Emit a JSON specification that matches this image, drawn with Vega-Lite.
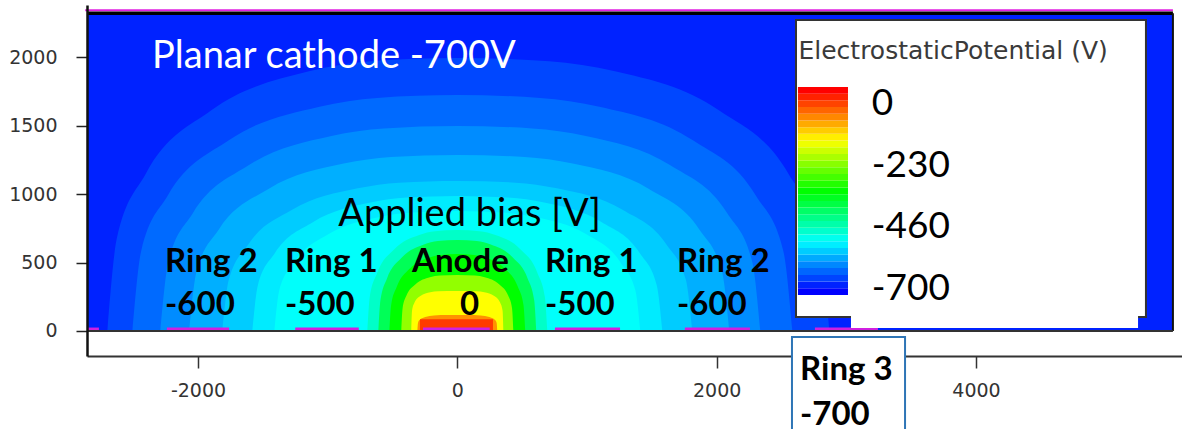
{
"$schema": "https://vega.github.io/schema/vega-lite/v6.json",
"width": 1095, "height": 351,
"autosize": "none",
"padding": {"left": 87, "top": 5, "right": 0, "bottom": 73},
"background": "white",
"config": {"view": {"stroke": null}},
"data": {"values": [{}]},
"datasets": {
"bg": [{"x": -2856, "x2": 5519, "y": 0, "y2": 2310, "v": -677}],
"anode": [{"x": -288, "x2": 275, "y": 0, "y2": 85, "v": -40}],
"contours": [
{"l":"c01","v":-651,"x":-2699,"y":0},{"l":"c01","v":-651,"x":-2626,"y":677},{"l":"c01","v":-651,"x":-2405,"y":1146},{"l":"c01","v":-651,"x":-1897,"y":1613},{"l":"c01","v":-651,"x":-1144,"y":1898},{"l":"c01","v":-651,"x":-667,"y":1972},{"l":"c01","v":-651,"x":0,"y":1996},{"l":"c01","v":-651,"x":709,"y":1972},{"l":"c01","v":-651,"x":1216,"y":1898},{"l":"c01","v":-651,"x":2017,"y":1613},{"l":"c01","v":-651,"x":2556,"y":1146},{"l":"c01","v":-651,"x":2792,"y":677},{"l":"c01","v":-651,"x":2869,"y":0},
{"l":"c02","v":-627,"x":-2506,"y":0},{"l":"c02","v":-627,"x":-2438,"y":585},{"l":"c02","v":-627,"x":-2233,"y":990},{"l":"c02","v":-627,"x":-1762,"y":1394},{"l":"c02","v":-627,"x":-1063,"y":1640},{"l":"c02","v":-627,"x":-619,"y":1704},{"l":"c02","v":-627,"x":0,"y":1725},{"l":"c02","v":-627,"x":638,"y":1704},{"l":"c02","v":-627,"x":1096,"y":1640},{"l":"c02","v":-627,"x":1817,"y":1394},{"l":"c02","v":-627,"x":2302,"y":990},{"l":"c02","v":-627,"x":2514,"y":585},{"l":"c02","v":-627,"x":2584,"y":0},
{"l":"c03","v":-604,"x":-2290,"y":0},{"l":"c03","v":-604,"x":-2228,"y":508},{"l":"c03","v":-604,"x":-2040,"y":860},{"l":"c03","v":-604,"x":-1610,"y":1211},{"l":"c03","v":-604,"x":-971,"y":1426},{"l":"c03","v":-604,"x":-566,"y":1481},{"l":"c03","v":-604,"x":0,"y":1499},{"l":"c03","v":-604,"x":577,"y":1481},{"l":"c03","v":-604,"x":991,"y":1426},{"l":"c03","v":-604,"x":1643,"y":1211},{"l":"c03","v":-604,"x":2082,"y":860},{"l":"c03","v":-604,"x":2274,"y":508},{"l":"c03","v":-604,"x":2337,"y":0},
{"l":"c04","v":-580,"x":-2067,"y":0},{"l":"c04","v":-580,"x":-2011,"y":436},{"l":"c04","v":-580,"x":-1842,"y":739},{"l":"c04","v":-580,"x":-1453,"y":1040},{"l":"c04","v":-580,"x":-876,"y":1224},{"l":"c04","v":-580,"x":-511,"y":1272},{"l":"c04","v":-580,"x":0,"y":1287},{"l":"c04","v":-580,"x":518,"y":1272},{"l":"c04","v":-580,"x":890,"y":1224},{"l":"c04","v":-580,"x":1475,"y":1040},{"l":"c04","v":-580,"x":1869,"y":739},{"l":"c04","v":-580,"x":2041,"y":436},{"l":"c04","v":-580,"x":2098,"y":0},
{"l":"c05","v":-560,"x":-1812,"y":0},{"l":"c05","v":-560,"x":-1763,"y":372},{"l":"c05","v":-560,"x":-1614,"y":630},{"l":"c05","v":-560,"x":-1274,"y":886},{"l":"c05","v":-560,"x":-768,"y":1043},{"l":"c05","v":-560,"x":-448,"y":1084},{"l":"c05","v":-560,"x":0,"y":1097},{"l":"c05","v":-560,"x":448,"y":1084},{"l":"c05","v":-560,"x":768,"y":1043},{"l":"c05","v":-560,"x":1274,"y":886},{"l":"c05","v":-560,"x":1614,"y":630},{"l":"c05","v":-560,"x":1763,"y":372},{"l":"c05","v":-560,"x":1812,"y":0},
{"l":"c06","v":-539,"x":-1581,"y":0},{"l":"c06","v":-539,"x":-1538,"y":335},{"l":"c06","v":-539,"x":-1409,"y":567},{"l":"c06","v":-539,"x":-1111,"y":797},{"l":"c06","v":-539,"x":-670,"y":939},{"l":"c06","v":-539,"x":-391,"y":975},{"l":"c06","v":-539,"x":0,"y":987},{"l":"c06","v":-539,"x":391,"y":975},{"l":"c06","v":-539,"x":670,"y":939},{"l":"c06","v":-539,"x":1111,"y":797},{"l":"c06","v":-539,"x":1409,"y":567},{"l":"c06","v":-539,"x":1538,"y":335},{"l":"c06","v":-539,"x":1581,"y":0},
{"l":"c07","v":-522,"x":-1411,"y":0},{"l":"c07","v":-522,"x":-1373,"y":297},{"l":"c07","v":-522,"x":-1257,"y":503},{"l":"c07","v":-522,"x":-992,"y":709},{"l":"c07","v":-522,"x":-598,"y":834},{"l":"c07","v":-522,"x":-349,"y":866},{"l":"c07","v":-522,"x":0,"y":877},{"l":"c07","v":-522,"x":349,"y":866},{"l":"c07","v":-522,"x":598,"y":834},{"l":"c07","v":-522,"x":992,"y":709},{"l":"c07","v":-522,"x":1257,"y":503},{"l":"c07","v":-522,"x":1373,"y":297},{"l":"c07","v":-522,"x":1411,"y":0},
{"l":"c08","v":-487,"x":-694,"y":0},{"l":"c08","v":-487,"x":-675,"y":250},{"l":"c08","v":-487,"x":-618,"y":424},{"l":"c08","v":-487,"x":-488,"y":596},{"l":"c08","v":-487,"x":-294,"y":702},{"l":"c08","v":-487,"x":-171,"y":729},{"l":"c08","v":-487,"x":0,"y":738},{"l":"c08","v":-487,"x":171,"y":729},{"l":"c08","v":-487,"x":294,"y":702},{"l":"c08","v":-487,"x":488,"y":596},{"l":"c08","v":-487,"x":618,"y":424},{"l":"c08","v":-487,"x":675,"y":250},{"l":"c08","v":-487,"x":694,"y":0},
{"l":"c09","v":-410,"x":-609,"y":0},{"l":"c09","v":-410,"x":-593,"y":225},{"l":"c09","v":-410,"x":-543,"y":382},{"l":"c09","v":-410,"x":-428,"y":537},{"l":"c09","v":-410,"x":-258,"y":632},{"l":"c09","v":-410,"x":-150,"y":657},{"l":"c09","v":-410,"x":0,"y":665},{"l":"c09","v":-410,"x":150,"y":657},{"l":"c09","v":-410,"x":258,"y":632},{"l":"c09","v":-410,"x":428,"y":537},{"l":"c09","v":-410,"x":543,"y":382},{"l":"c09","v":-410,"x":593,"y":225},{"l":"c09","v":-410,"x":609,"y":0},
{"l":"c10","v":-350,"x":-524,"y":0},{"l":"c10","v":-350,"x":-510,"y":191},{"l":"c10","v":-350,"x":-467,"y":323},{"l":"c10","v":-350,"x":-368,"y":455},{"l":"c10","v":-350,"x":-222,"y":535},{"l":"c10","v":-350,"x":-129,"y":556},{"l":"c10","v":-350,"x":0,"y":563},{"l":"c10","v":-350,"x":129,"y":556},{"l":"c10","v":-350,"x":222,"y":535},{"l":"c10","v":-350,"x":368,"y":455},{"l":"c10","v":-350,"x":467,"y":323},{"l":"c10","v":-350,"x":510,"y":191},{"l":"c10","v":-350,"x":524,"y":0},
{"l":"c11","v":-250,"x":-432,"y":0},{"l":"c11","v":-250,"x":-422,"y":166},{"l":"c11","v":-250,"x":-393,"y":258},{"l":"c11","v":-250,"x":-322,"y":342},{"l":"c11","v":-250,"x":-211,"y":393},{"l":"c11","v":-250,"x":-135,"y":405},{"l":"c11","v":-250,"x":0,"y":409},{"l":"c11","v":-250,"x":135,"y":405},{"l":"c11","v":-250,"x":211,"y":393},{"l":"c11","v":-250,"x":322,"y":342},{"l":"c11","v":-250,"x":393,"y":258},{"l":"c11","v":-250,"x":422,"y":166},{"l":"c11","v":-250,"x":432,"y":0},
{"l":"c12","v":-175,"x":-355,"y":0},{"l":"c12","v":-175,"x":-349,"y":149},{"l":"c12","v":-175,"x":-331,"y":206},{"l":"c12","v":-175,"x":-285,"y":256},{"l":"c12","v":-175,"x":-208,"y":283},{"l":"c12","v":-175,"x":-148,"y":290},{"l":"c12","v":-175,"x":0,"y":292},{"l":"c12","v":-175,"x":148,"y":290},{"l":"c12","v":-175,"x":208,"y":283},{"l":"c12","v":-175,"x":285,"y":256},{"l":"c12","v":-175,"x":331,"y":206},{"l":"c12","v":-175,"x":349,"y":149},{"l":"c12","v":-175,"x":355,"y":0},
{"l":"c13","v":-100,"x":-308,"y":0},{"l":"c13","v":-100,"x":-303,"y":60},{"l":"c13","v":-100,"x":-287,"y":83},{"l":"c13","v":-100,"x":-247,"y":102},{"l":"c13","v":-100,"x":-180,"y":113},{"l":"c13","v":-100,"x":-128,"y":116},{"l":"c13","v":-100,"x":0,"y":117},{"l":"c13","v":-100,"x":128,"y":116},{"l":"c13","v":-100,"x":180,"y":113},{"l":"c13","v":-100,"x":247,"y":102},{"l":"c13","v":-100,"x":287,"y":83},{"l":"c13","v":-100,"x":303,"y":60},{"l":"c13","v":-100,"x":308,"y":0}
],
"electrodes": [
{"name":"Ring 3 L","x":-2856,"x2":-2764},{"name":"Ring 2 L","x":-2240,"x2":-1760},{"name":"Ring 1 L","x":-1250,"x2":-760},{"name":"Anode","x":-265,"x2":250},{"name":"Ring 1 R","x":753,"x2":1255},{"name":"Ring 2 R","x":1755,"x2":2257},{"name":"Ring 3 R","x":2758,"x2":3244}
],
"colorbar": [
{"v":-700,"y":263,"y2":312},{"v":-676.7,"y":312,"y2":361},{"v":-653.3,"y":361,"y2":410},{"v":-630,"y":410,"y2":460},{"v":-606.7,"y":460,"y2":509},{"v":-583.3,"y":509,"y2":558},{"v":-560,"y":558,"y2":607},{"v":-536.7,"y":607,"y2":656},{"v":-513.3,"y":656,"y2":705},{"v":-490,"y":705,"y2":754},{"v":-466.7,"y":754,"y2":804},{"v":-443.3,"y":804,"y2":853},{"v":-420,"y":853,"y2":902},{"v":-396.7,"y":902,"y2":951},{"v":-373.3,"y":951,"y2":1000},{"v":-350,"y":1000,"y2":1049},{"v":-326.7,"y":1049,"y2":1098},{"v":-303.3,"y":1098,"y2":1147},{"v":-280,"y":1147,"y2":1196},{"v":-256.7,"y":1196,"y2":1245},{"v":-233.3,"y":1245,"y2":1294},{"v":-210,"y":1294,"y2":1343},{"v":-186.7,"y":1343,"y2":1392},{"v":-163.3,"y":1392,"y2":1441},{"v":-140,"y":1441,"y2":1490},{"v":-116.7,"y":1490,"y2":1539},{"v":-93.3,"y":1539,"y2":1588},{"v":-70,"y":1588,"y2":1637},{"v":-46.7,"y":1637,"y2":1686},{"v":-23.3,"y":1686,"y2":1735},{"v":0,"y":1735,"y2":1784}
],
"boldlabels": [
{"t":"Ring 2","x":-2254,"y":431},{"t":"-600","x":-2254,"y":117},
{"t":"Ring 1","x":-1329,"y":431},{"t":"-500","x":-1329,"y":117},
{"t":"Anode","x":-349,"y":431},{"t":"0","x":21,"y":117},
{"t":"Ring 1","x":676,"y":431},{"t":"-500","x":676,"y":117},
{"t":"Ring 2","x":1694,"y":431},{"t":"-600","x":1694,"y":117},
{"t":"Ring 3","x":2643,"y":-358},{"t":"-700","x":2643,"y":-687}
],
"legendlabels": [
{"t":"0","y":1579},{"t":"-230","y":1126},{"t":"-460","y":680},{"t":"-700","y":227}
]
},
"layer": [
{"data": {"name": "bg"}, "mark": {"type": "rect"},
 "encoding": {
  "x": {"field": "x", "type": "quantitative", "scale": {"domain": [-2856, 5589], "nice": false, "zero": false},
        "axis": {"values": [-2000, 0, 2000, 4000], "labelExpr": "'' + datum.value", "title": null, "grid": false, "labelFont": "DejaVu Sans", "labelFontSize": 19, "labelColor": "#333333", "tickSize": 12, "tickColor": "#333333", "tickWidth": 1.5, "domainColor": "#333333", "domainWidth": 2, "labelPadding": 13, "zindex": 0, "labelFlush": false, "labelOverlap": false}},
  "x2": {"field": "x2"},
  "y": {"field": "y", "type": "quantitative", "scale": {"domain": [-183, 2383], "nice": false, "zero": false},
        "axis": {"values": [0, 500, 1000, 1500, 2000], "labelExpr": "'' + datum.value", "title": null, "grid": false, "labelFont": "DejaVu Sans", "labelFontSize": 19, "labelColor": "#333333", "tickSize": 11, "tickColor": "#222222", "tickWidth": 1.5, "domainColor": "#111111", "domainWidth": 2.5, "labelPadding": 19, "zindex": 1, "labelFlush": false, "labelOverlap": false}},
  "y2": {"field": "y2"},
  "color": {"field": "v", "type": "quantitative", "scale": {"domain": [-700, -525, -350, -175, 0], "range": ["#0000ff", "#00ffff", "#00ff00", "#ffff00", "#ff0000"], "interpolate": "rgb"}, "legend": null}
 }},
{"data": {"name": "contours"}, "mark": {"type": "area", "interpolate": "monotone"},
 "encoding": {
  "x": {"field": "x", "type": "quantitative"},
  "y": {"field": "y", "type": "quantitative", "stack": null},
  "y2": {"datum": 0},
  "detail": {"field": "l", "type": "nominal"},
  "color": {"field": "v", "type": "quantitative", "legend": null}
 }},
{"data": {"name": "anode"}, "mark": {"type": "rect"},
 "encoding": {"x": {"field": "x", "type": "quantitative"}, "x2": {"field": "x2"}, "y": {"field": "y", "type": "quantitative"}, "y2": {"field": "y2"}, "color": {"field": "v", "type": "quantitative", "legend": null}}},
{"data": {"name": "electrodes"}, "mark": {"type": "rect", "color": "#d020e0"},
 "encoding": {"x": {"field": "x", "type": "quantitative"}, "x2": {"field": "x2"}, "y": {"datum": 0}, "y2": {"datum": 25}}},
{"mark": {"type": "rule", "color": "#e020e0", "strokeWidth": 2},
 "encoding": {"x": {"datum": -2870}, "x2": {"datum": 5519}, "y": {"datum": 2344}}},
{"mark": {"type": "rule", "color": "#000000", "strokeWidth": 3.5},
 "encoding": {"x": {"datum": -2856}, "x2": {"datum": 5519}, "y": {"datum": 2323}}},
{"mark": {"type": "rule", "color": "#111111", "strokeWidth": 2},
 "encoding": {"x": {"datum": 5519}, "y": {"datum": 0}, "y2": {"datum": 2323}}},
{"mark": {"type": "rule", "color": "#333333", "strokeWidth": 2},
 "encoding": {"x": {"datum": -2856}, "x2": {"datum": 5519}, "y": {"datum": 0}}},
{"mark": {"type": "rect", "fill": "#ffffff", "stroke": "#333333", "strokeWidth": 2},
 "encoding": {"x": {"datum": 2612}, "x2": {"datum": 5311}, "y": {"datum": 102}, "y2": {"datum": 2273}}},
{"mark": {"type": "rect", "fill": "#ffffff"},
 "encoding": {"x": {"datum": 3036}, "x2": {"datum": 5250}, "y": {"datum": 22}, "y2": {"datum": 115}}},
{"data": {"name": "colorbar"}, "mark": {"type": "rect"},
 "encoding": {"x": {"datum": 2627}, "x2": {"datum": 3013}, "y": {"field": "y", "type": "quantitative"}, "y2": {"field": "y2"}, "color": {"field": "v", "type": "quantitative", "legend": null}}},
{"mark": {"type": "rect", "fill": "#ffffff", "stroke": "#2e75b6", "strokeWidth": 2},
 "encoding": {"x": {"datum": 2581}, "x2": {"datum": 3453}, "y": {"datum": -44}, "y2": {"datum": -800}}},
{"mark": {"type": "text", "text": "Planar cathode -700V", "font": "Lato", "fontSize": 38, "color": "#ffffff", "align": "left", "baseline": "alphabetic"},
 "encoding": {"x": {"datum": -2354}, "y": {"datum": 1922}}},
{"mark": {"type": "text", "text": "Applied bias [V]", "font": "Lato", "fontSize": 38, "color": "#000000", "align": "center", "baseline": "alphabetic"},
 "encoding": {"x": {"datum": 94}, "y": {"datum": 768}}},
{"data": {"name": "boldlabels"}, "mark": {"type": "text", "font": "Lato", "fontWeight": "bold", "fontSize": 33, "color": "#000000", "align": "left", "baseline": "alphabetic"},
 "encoding": {"x": {"field": "x", "type": "quantitative"}, "y": {"field": "y", "type": "quantitative"}, "text": {"field": "t"}}},
{"mark": {"type": "text", "text": "ElectrostaticPotential (V)", "font": "DejaVu Sans", "fontSize": 25, "color": "#3a3a3a", "align": "left", "baseline": "alphabetic"},
 "encoding": {"x": {"datum": 2631}, "y": {"datum": 1988}}},
{"data": {"name": "legendlabels"}, "mark": {"type": "text", "font": "Lato", "fontSize": 37, "color": "#000000", "align": "left", "baseline": "alphabetic"},
 "encoding": {"x": {"datum": 3196}, "y": {"field": "y", "type": "quantitative"}, "text": {"field": "t"}}}
]
}
